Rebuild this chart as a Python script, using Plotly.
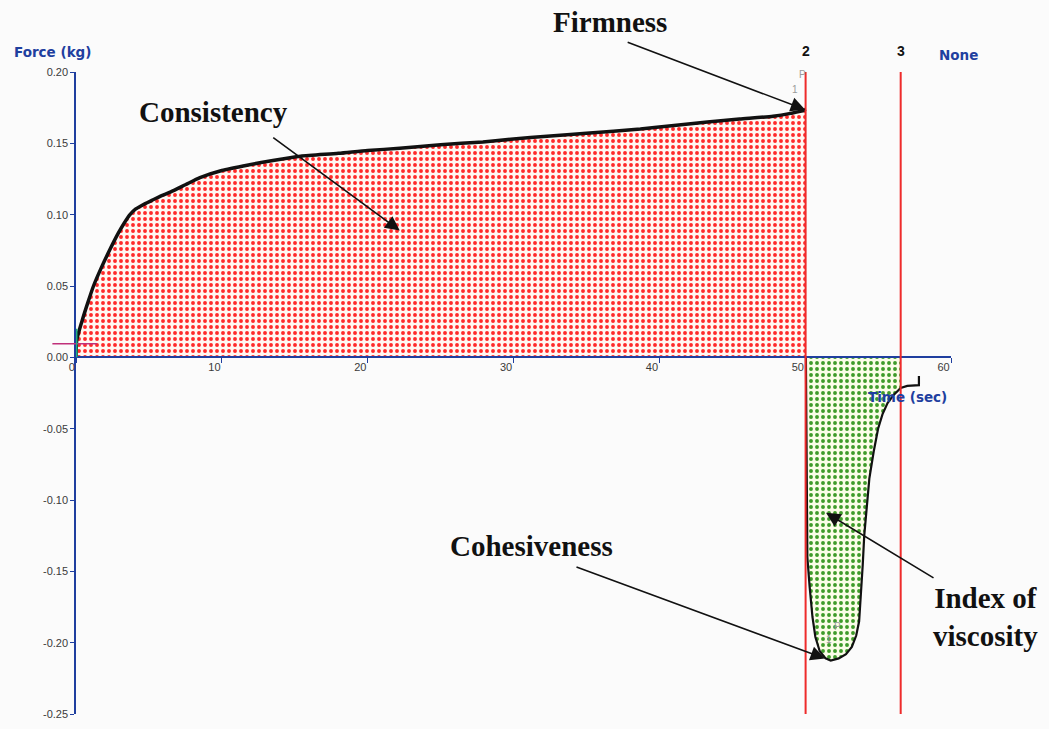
import numpy as np
import plotly.graph_objects as go

# ---- data ----
time_s = [0.0, 0.05, 0.4, 0.8, 1.2, 1.7, 2.3, 2.9, 3.3, 3.7, 4.1, 4.6, 5.2, 5.8, 6.5,
          7.5, 8.5, 10.0, 11.9, 13.5, 15.4, 18.0, 20.0, 22.2, 25.0, 27.9, 30.0, 32.3,
          35.0, 38.7, 41.0, 43.3, 45.5, 47.8, 49.0, 49.9, 50.02,
          50.05, 50.1, 50.15, 50.3, 50.5, 50.7, 51.0, 51.4, 51.75, 52.3, 52.8, 53.2,
          53.5, 53.7, 53.85, 53.95, 54.05, 54.2, 54.4, 54.7, 55.0, 55.3, 55.65,
          56.1, 56.55, 57.0, 57.7, 57.8, 57.8]
force_kg = [0.0, 0.012, 0.025, 0.038, 0.050, 0.062, 0.075, 0.087, 0.094, 0.100, 0.104,
            0.107, 0.110, 0.113, 0.116, 0.121, 0.126, 0.131, 0.135, 0.138, 0.141,
            0.143, 0.145, 0.1465, 0.149, 0.151, 0.153, 0.155, 0.157, 0.160, 0.1625,
            0.165, 0.167, 0.169, 0.171, 0.173, 0.174,
            0.0, -0.053, -0.14, -0.16, -0.182, -0.196, -0.206, -0.211, -0.2125,
            -0.211, -0.208, -0.203, -0.195, -0.185, -0.165, -0.145, -0.125, -0.105,
            -0.085, -0.066, -0.05, -0.040, -0.032, -0.026, -0.0215, -0.020, -0.0195,
            -0.0195, -0.013]

marker_times = [50.03, 56.55]
marker_labels = ["2", "3"]

x_ticks = [0, 10, 20, 30, 40, 50, 60]
x_tick_labels = ["0", "10", "20", "30", "40", "50", "60"]
y_ticks = [-0.25, -0.20, -0.15, -0.10, -0.05, 0.0, 0.05, 0.10, 0.15, 0.20]
y_tick_labels = ["-0.25", "-0.20", "-0.15", "-0.10", "-0.05", "0.00", "0.05",
                 "0.10", "0.15", "0.20"]

t = np.array(time_s)
f = np.array(force_kg)
pos = t <= 50.02
neg = t >= 50.05
visc = (t >= 50.05) & (t <= 56.55)

AXIS_BLUE = "#1f3f9f"
SERIF = "Liberation Serif, Times New Roman, serif"
SANS_B = "DejaVu Sans, Verdana, sans-serif"

fig = go.Figure()

# red dotted area (consistency)
fig.add_trace(go.Scatter(
    x=t[pos], y=f[pos], mode="lines", line=dict(width=0, shape="spline", smoothing=0.6),
    fill="tozeroy", fillcolor="#fff7f2",
    fillpattern=dict(shape=".", fgcolor="#ff2a2a", bgcolor="#fff7f2",
                     size=6, solidity=0.33, fillmode="replace"),
    hoverinfo="skip", showlegend=False))
# green dotted area (index of viscosity)
fig.add_trace(go.Scatter(
    x=t[visc], y=f[visc], mode="lines", line=dict(width=0), fill="tozeroy",
    fillcolor="#fbfde8",
    fillpattern=dict(shape=".", fgcolor="#3f9b2a", bgcolor="#fbfde8",
                     size=6, solidity=0.33, fillmode="replace"),
    hoverinfo="skip", showlegend=False))
# force curve
fig.add_trace(go.Scatter(x=t[pos], y=f[pos], mode="lines",
                         line=dict(color="#111111", width=3.5, shape="spline",
                                   smoothing=0.6),
                         hoverinfo="skip", showlegend=False))
fig.add_trace(go.Scatter(x=t[neg], y=f[neg], mode="lines",
                         line=dict(color="#111111", width=2.2),
                         hoverinfo="skip", showlegend=False))

shapes = []
annotations = []
for mt, ml in zip(marker_times, marker_labels):
    shapes.append(dict(type="line", xref="x", yref="paper", x0=mt, x1=mt, y0=0, y1=1,
                       line=dict(color="#ee2b2b", width=2), layer="above"))
    annotations.append(dict(x=mt, y=1, xref="x", yref="paper", text=f"<b>{ml}</b>",
                            showarrow=False, yshift=21, xanchor="center",
                            yanchor="middle",
                            font=dict(family="Liberation Sans, Arial", size=14,
                                      color="#111111")))

# small decorations near origin
shapes.append(dict(type="line", xref="paper", yref="y", x0=-0.027, x1=0.024,
                   y0=0.0095, y1=0.0095, line=dict(color="#c0307a", width=1.5)))
shapes.append(dict(type="line", xref="x", yref="y", x0=0.05, x1=0.05,
                   y0=0.0, y1=0.02, line=dict(color="#20b080", width=1.5)))

# axis / header labels
annotations += [
    dict(x=-0.0274, y=1, xref="paper", yref="paper", text="<b>Force (kg)</b>",
         showarrow=False, yshift=20, xanchor="center", yanchor="middle",
         font=dict(family=SANS_B, size=13.5, color=AXIS_BLUE)),
    dict(x=1.008, y=1, xref="paper", yref="paper", text="<b>None</b>",
         showarrow=False, yshift=17, xanchor="center", yanchor="middle",
         font=dict(family=SANS_B, size=13.5, color=AXIS_BLUE)),
    dict(x=57.0, y=-0.0278, xref="x", yref="y", text="<b>Time (sec)</b>",
         showarrow=False, xanchor="center", yanchor="middle",
         font=dict(family=SANS_B, size=13.5, color=AXIS_BLUE)),
]

# faint point labels
for (px, py, tx) in [(49.85, 0.198, "P"), (49.3, 0.1875, "1"),
                     (52.25, -0.189, "P"), (51.6, -0.198, "1")]:
    annotations.append(dict(x=px, y=py, xref="x", yref="y", text=tx, showarrow=False,
                            xanchor="center", yanchor="middle",
                            font=dict(family="Liberation Sans, Arial", size=10,
                                      color="#9a9a9a")))

# big serif labels (paper coordinates so they may sit outside the axes)
for (px, py, tx) in [(0.1577, 0.9383, "Consistency"), (0.6103, 1.0772, "Firmness"),
                     (0.5211, 0.2623, "Cohesiveness"),
                     (1.0389, 0.1512, "Index of<br>viscosity")]:
    annotations.append(dict(x=px, y=py, xref="paper", yref="paper", text=f"<b>{tx}</b>",
                            showarrow=False, xanchor="center", yanchor="middle",
                            font=dict(family=SERIF, size=29, color="#111111")))

# arrows (tip in data coords, tail offset in pixels)
for (px, py, ax, ay) in [(50.0, 0.1736, -179, -68), (22.2, 0.0889, -128, -94),
                         (51.36, -0.2111, -250, -92), (51.43, -0.109, 109, 66)]:
    annotations.append(dict(x=px, y=py, xref="x", yref="y", text="", showarrow=True,
                            ax=ax, ay=ay, arrowhead=2, arrowsize=1.8, arrowwidth=1.6,
                            arrowcolor="#111111", standoff=0, startstandoff=0))

tick_font = dict(family="Liberation Sans, Arial", size=11, color="#3a3a3a")
fig.update_layout(
    width=1049, height=729,
    margin=dict(l=76, r=98, t=72, b=9),
    paper_bgcolor="#fbfbfb", plot_bgcolor="#fbfbfb",
    shapes=shapes, annotations=annotations,
    xaxis=dict(range=[0, 60], tickvals=x_ticks, ticktext=x_tick_labels,
               showgrid=False, zeroline=False, showline=True, linecolor=AXIS_BLUE,
               linewidth=1.5, ticks="outside", ticklen=5, tickcolor=AXIS_BLUE,
               ticklabelposition="outside left",
               anchor="free", position=0.25 / 0.45, tickfont=tick_font),
    yaxis=dict(range=[-0.25, 0.20], tickvals=y_ticks, ticktext=y_tick_labels,
               showgrid=False, zeroline=False, showline=True, linecolor=AXIS_BLUE,
               linewidth=1.5, ticks="outside", ticklen=4, tickcolor=AXIS_BLUE,
               tickfont=tick_font),
)

fig.write_html("out.html", config={"displayModeBar": False},
               post_script="document.body.style.margin='0';"
                           "document.body.style.overflow='hidden';")
